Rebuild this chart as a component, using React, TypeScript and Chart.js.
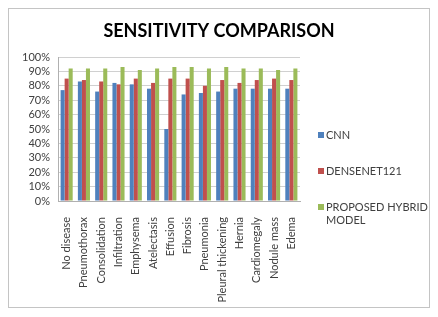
import React, { useEffect, useRef } from "react";
import { Chart, registerables } from "chart.js";

Chart.register(...registerables);

const categories = [
  "No disease",
  "Pneumothorax",
  "Consolidation",
  "Infiltration",
  "Emphysema",
  "Atelectasis",
  "Effusion",
  "Fibrosis",
  "Pneumonia",
  "Pleural thickening",
  "Hernia",
  "Cardiomegaly",
  "Nodule mass",
  "Edema",
];

const seriesNames = ["CNN", "DENSENET121", "PROPOSED HYBRID MODEL"];
const cnnValues = [77, 83, 76, 82, 81, 78, 50, 74, 75, 76, 78, 78, 78, 78];
const densenetValues = [85, 84, 83, 81, 85, 82, 85, 85, 80, 84, 82, 84, 85, 84];
const hybridValues = [92, 92, 92, 93, 91, 92, 93, 93, 92, 93, 92, 92, 91, 92];
const chartTitle = "SENSITIVITY COMPARISON";

const colors = ["#4F81BD", "#C0504D", "#9BBB59"];
const FONT = "Lato, 'Open Sans', sans-serif";

const titlePlugin = {
  id: "customTitle",
  afterDraw(chart: any) {
    const ctx = chart.ctx;
    ctx.save();
    ctx.font = `bold 18px ${FONT}`;
    ctx.fillStyle = "#000000";
    ctx.textAlign = "center";
    ctx.textBaseline = "middle";
    ctx.fillText(chartTitle, chart.width / 2, 22);
    ctx.restore();
  },
};

const legendPlugin = {
  id: "customLegend",
  afterDraw(chart: any) {
    const ctx = chart.ctx;
    const x0 = chart.chartArea.right + 18;
    const centers = [126, 162, 198];
    ctx.save();
    ctx.font = `11px ${FONT}`;
    ctx.textBaseline = "middle";
    chart.data.datasets.forEach((ds: any, i: number) => {
      const cy = centers[i];
      ctx.fillStyle = ds.backgroundColor;
      ctx.fillRect(x0, cy - 3, 6, 6);
      ctx.fillStyle = "#404040";
      const words = String(ds.label).split(" ");
      const lines: string[] = [];
      let cur = "";
      words.forEach((w) => {
        const t = cur ? cur + " " + w : w;
        if (ctx.measureText(t).width > 102 && cur) {
          lines.push(cur);
          cur = w;
        } else cur = t;
      });
      if (cur) lines.push(cur);
      lines.forEach((ln, j) => ctx.fillText(ln, x0 + 8, cy + j * 13));
    });
    ctx.restore();
  },
};

export default function App() {
  const ref = useRef<HTMLCanvasElement | null>(null);
  useEffect(() => {
    if (!ref.current) return;
    const chart = new Chart(ref.current, {
      type: "bar",
      data: {
        labels: categories,
        datasets: [cnnValues, densenetValues, hybridValues].map((d, i) => ({
          label: seriesNames[i],
          data: d,
          backgroundColor: colors[i],
          categoryPercentage: 0.7,
          barPercentage: 1.0,
        })),
      },
      options: {
        responsive: false,
        animation: false,
        layout: { padding: { left: 0, right: 129, top: 48, bottom: 0 } },
        plugins: {
          legend: { display: false },
          tooltip: { enabled: false },
          title: { display: false },
        },
        scales: {
          x: {
            grid: { display: false },
            border: { color: "#b0b0b0" },
            ticks: {
              color: "#404040",
              font: { family: FONT, size: 11 },
              maxRotation: 90,
              minRotation: 90,
              autoSkip: false,
              padding: 8,
            },
            afterFit(scale: any) {
              scale.height = 106;
            },
          },
          y: {
            min: 0,
            max: 100,
            grid: { color: "#d0d0d0", drawTicks: false },
            border: { color: "#b0b0b0" },
            ticks: {
              stepSize: 10,
              autoSkip: false,
              color: "#404040",
              font: { family: FONT, size: 11 },
              padding: 8,
              callback: (v: any) => v + "%",
            },
            afterFit(scale: any) {
              scale.width = 49;
            },
          },
        },
      },
      plugins: [titlePlugin, legendPlugin],
    } as any);
    return () => chart.destroy();
  }, []);
  return (
    <div
      style={{
        width: 422,
        height: 300,
        border: "1px solid #c4c4c4",
        boxShadow: "1px 1px 2px rgba(0,0,0,0.25)",
        boxSizing: "border-box",
        background: "#fff",
      }}
    >
      <canvas ref={ref} width={420} height={298} style={{ display: "block" }} />
    </div>
  );
}
